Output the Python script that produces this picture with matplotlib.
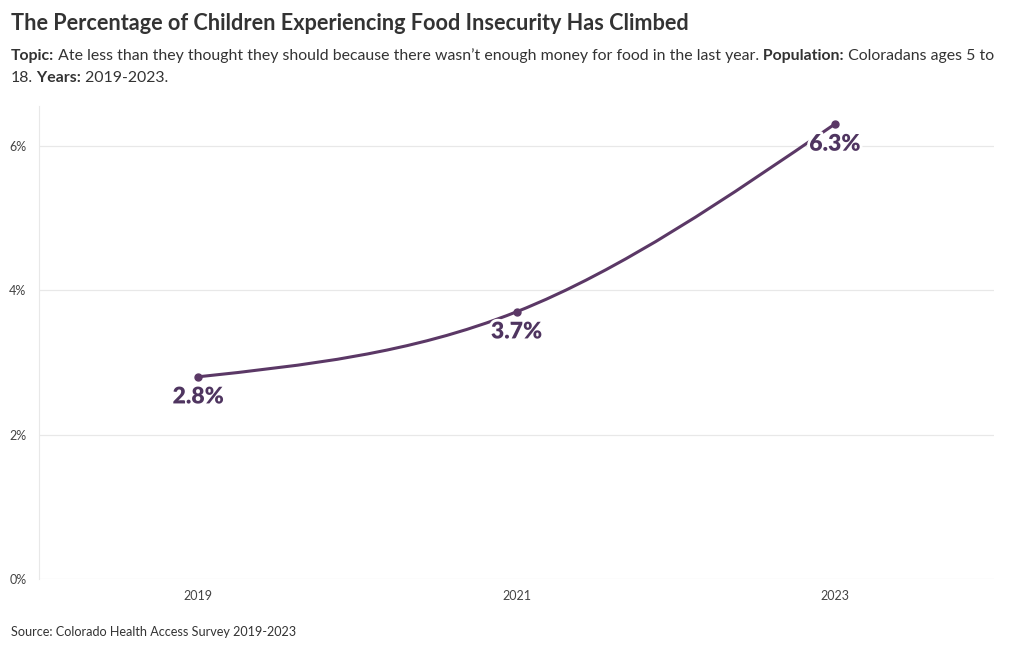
import numpy as np
import matplotlib.pyplot as plt
import matplotlib.patheffects as pe
from matplotlib.path import Path
from matplotlib.patches import PathPatch

years = [2019, 2021, 2023]
pct = [2.8, 3.7, 6.3]
labels = ["2.8%", "3.7%", "6.3%"]
yticks = [0, 2, 4, 6]

title = "The Percentage of Children Experiencing Food Insecurity Has Climbed"
sub1 = [("Topic:", "bold"),
        (" Ate less than they thought they should because there wasn\u2019t enough money for food in the last year.", "normal"),
        (" Population:", "bold"), (" Coloradans ages 5 to", "normal")]
sub2 = [("18.", "normal"), (" Years:", "bold"), (" 2019-2023.", "normal")]
source = "Source: Colorado Health Access Survey 2019-2023"

purple = "#5b3866"
plt.rcParams['font.family'] = ['Lato', 'DejaVu Sans']

fig = plt.figure(figsize=(10.2, 6.5), dpi=100)
ax = fig.add_axes([39/1020, 1 - 579/650, (994-39)/1020, (579-106)/650])


def monotone_path(x, y):
    # d3 curveMonotoneX style bezier path through the points
    x = np.asarray(x, float)
    y = np.asarray(y, float)
    h = np.diff(x)
    s = np.diff(y) / h
    t = np.zeros(len(x))
    for i in range(1, len(x) - 1):
        p = (s[i-1]*h[i] + s[i]*h[i-1]) / (h[i-1] + h[i])
        t[i] = (np.sign(s[i-1]) + np.sign(s[i])) * min(abs(s[i-1]), abs(s[i]), 0.5*abs(p))
    t[0] = (3*s[0] - t[1]) / 2
    t[-1] = (3*s[-1] - t[-2]) / 2
    verts = [(x[0], y[0])]
    codes = [Path.MOVETO]
    for i in range(len(x) - 1):
        d = h[i] / 3
        verts += [(x[i] + d, y[i] + t[i]*d), (x[i+1] - d, y[i+1] - t[i+1]*d), (x[i+1], y[i+1])]
        codes += [Path.CURVE4] * 3
    return Path(verts, codes)


ax.add_patch(PathPatch(monotone_path(years, pct), facecolor='none', edgecolor=purple, lw=2.2, zorder=3))
ax.plot(years, pct, 'o', color=purple, ms=5, zorder=4)

for xv, yv, lab in zip(years, pct, labels):
    ax.annotate(lab, (xv, yv), xytext=(0, -14.5), textcoords='offset points',
                ha='center', va='center', fontsize=16.5, fontweight='heavy', color="#4f3560", zorder=5,
                path_effects=[pe.withStroke(linewidth=4, foreground='white')])

ax.set_xlim(2018, 2024)
ax.set_ylim(0, 6.55)
ax.set_xticks(years)
ax.set_xticklabels([str(y) for y in years])
ax.set_yticks(yticks)
ax.set_yticklabels([f"{v}%" for v in yticks])
ax.tick_params(axis='both', labelsize=9, labelcolor='#444444', length=0, pad=8)
ax.tick_params(axis='y', pad=9)
ax.grid(axis='y', color='#e8e8e8', lw=0.9)
ax.set_axisbelow(True)
for side in ['top', 'right', 'bottom']:
    ax.spines[side].set_visible(False)
ax.spines['left'].set_color('#e8e8e8')

fig.text(11/1020, 1 - 24/650, title, fontsize=15.6, fontweight='bold', color='#333333', va='center')

renderer = fig.canvas.get_renderer()


def rich_line(parts, x0, y):
    x = x0
    for txt, w in parts:
        t = fig.text(x, y, txt, fontsize=11.4, fontweight=w, color='#333333', va='baseline')
        bb = t.get_window_extent(renderer)
        x += bb.width / fig.bbox.width


rich_line(sub1, 11/1020, 1 - 60/650)
rich_line(sub2, 11/1020, 1 - 82/650)

fig.text(11/1020, 1 - 632/650, source, fontsize=9.1, color='#333333', va='center')

fig.savefig("out.png", dpi=100, facecolor='white')
